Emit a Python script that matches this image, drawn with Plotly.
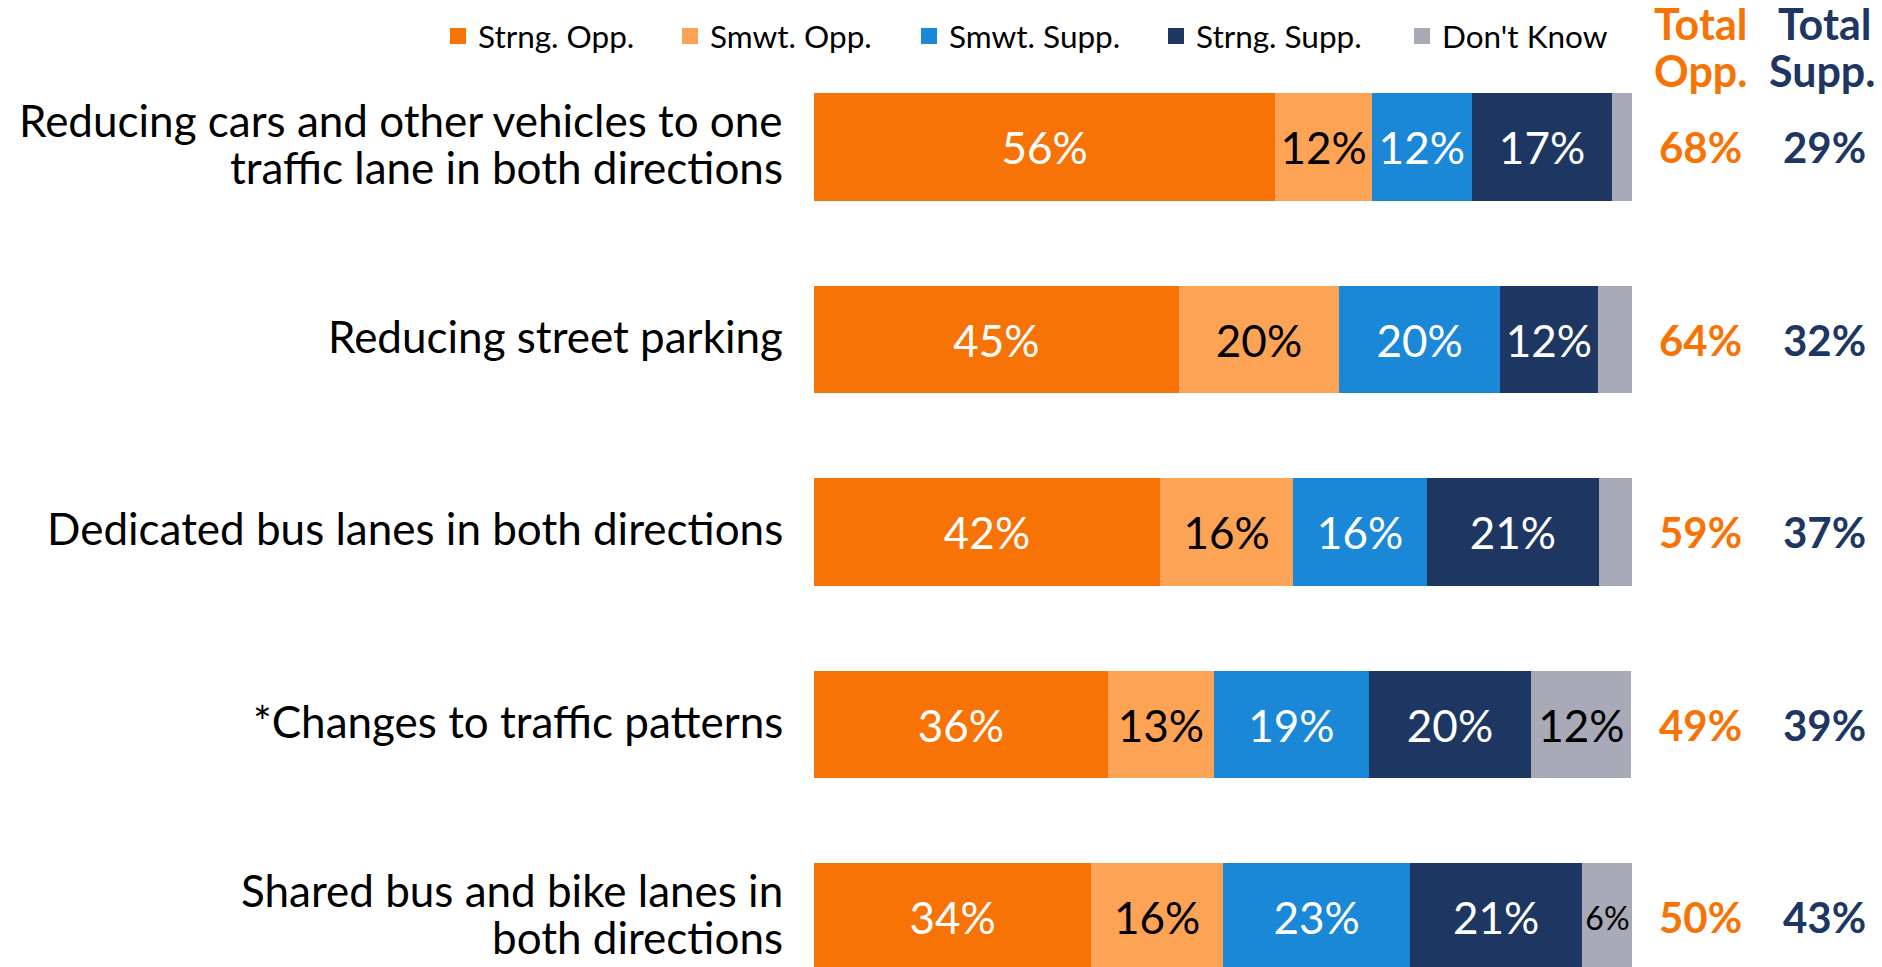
import plotly.graph_objects as go

# ---------------- data ----------------
categories = [
    "Reducing cars and other vehicles to one<br>traffic lane in both directions",
    "Reducing street parking",
    "Dedicated bus lanes in both directions",
    "*Changes to traffic patterns",
    "Shared bus and bike lanes in<br>both directions",
]
strong_opp = [56.4, 44.6, 42.3, 35.9, 33.9]
smwt_opp = [11.8, 19.6, 16.3, 13.0, 16.1]
smwt_supp = [12.2, 19.7, 16.3, 18.9, 22.9]
strong_supp = [17.2, 11.9, 21.1, 19.9, 21.0]
dont_know = [2.4, 4.2, 4.0, 12.2, 6.2]
total_opp = ["68%", "64%", "59%", "49%", "50%"]
total_supp = ["29%", "32%", "37%", "39%", "43%"]
series_names = ["Strng. Opp.", "Smwt. Opp.", "Smwt. Supp.", "Strng. Supp.", "Don't Know"]

# ---------------- style ----------------
FONT = "Lato"
colors = ["#F77306", "#FCA355", "#1A88D7", "#1E3762", "#A9AAB8"]
text_colors = ["white", "black", "white", "white", "black"]
OFF = 8                      # page body margin
W, H = 1882 - OFF, 967 - OFF
BAR_L, BAR_R = 814, 1632     # screen px of 0% and 100%
ML = BAR_L - OFF
MR = W - (BAR_R - OFF)
PW = W - ML - MR


def px_x(px):
    return (px - OFF - ML) / PW


def px_y(py):
    return 1 - (py - OFF) / H


fig = go.Figure()
all_series = [strong_opp, smwt_opp, smwt_supp, strong_supp, dont_know]
for i, (name, vals) in enumerate(zip(series_names, all_series)):
    if i == 4:
        texts = [f"{v:.0f}%" if v >= 5 else "" for v in vals]
        sizes = [44 if v >= 10 else 32 for v in vals]
    else:
        texts = [f"{v:.0f}%" for v in vals]
        sizes = [44] * len(vals)
    fig.add_trace(go.Bar(
        name=name, y=categories, x=vals, orientation="h",
        marker=dict(color=colors[i], line=dict(width=0)),
        text=texts, textposition="inside", insidetextanchor="middle",
        textangle=0, constraintext="none",
        insidetextfont=dict(family=FONT, size=sizes, color=text_colors[i]),
        showlegend=False, hoverinfo="skip",
    ))

annotations = []
shapes = []
# manual legend
legend_sq_x = [450, 682, 921, 1168, 1414]
for i, name in enumerate(series_names):
    sx = legend_sq_x[i]
    shapes.append(dict(type="rect", xref="paper", yref="paper",
                       x0=px_x(sx), x1=px_x(sx + 16), y0=px_y(44), y1=px_y(28),
                       fillcolor=colors[i], line=dict(width=0)))
    annotations.append(dict(xref="paper", yref="paper", x=px_x(sx + 26), y=px_y(36),
                            xanchor="left", yanchor="middle", showarrow=False,
                            text=name, font=dict(family=FONT, size=31.5, color="black")))

# category labels (two-line labels with tight line spacing)
LINE = 47
for cat in categories:
    lines = cat.split("<br>")
    n = len(lines)
    for k, ln in enumerate(lines):
        shift = 4 + (n - 1) * LINE / 2 - k * LINE
        annotations.append(dict(xref="paper", yref="y", x=px_x(785), y=cat,
                                xanchor="right", yanchor="middle", showarrow=False,
                                yshift=shift, text=ln,
                                font=dict(family=FONT, size=44, color="black")))

# headers
for txt, cx, cy, col, anchor in [("Total", 1700, 24, colors[0], "center"),
                                 ("Opp.", 1700, 70, colors[0], "center"),
                                 ("Total", 1521, 24, colors[3], "center"),
                                 ("Supp.", 1878, 70, colors[3], "right")]:
    x = cx if cx > 1600 else 1824
    annotations.append(dict(xref="paper", yref="paper", x=px_x(x), y=px_y(cy),
                            xanchor=anchor, yanchor="middle", showarrow=False,
                            text=f"<b>{txt}</b>",
                            font=dict(family=FONT, size=43, color=col)))

for cat, to, ts in zip(categories, total_opp, total_supp):
    annotations.append(dict(xref="paper", yref="y", x=px_x(1700), y=cat,
                            xanchor="center", yanchor="middle", showarrow=False,
                            text=f"<b>{to}</b>",
                            font=dict(family=FONT, size=42, color=colors[0])))
    annotations.append(dict(xref="paper", yref="y", x=px_x(1824), y=cat,
                            xanchor="center", yanchor="middle", showarrow=False,
                            text=f"<b>{ts}</b>",
                            font=dict(family=FONT, size=42, color=colors[3])))

row0_center = 147 - OFF
unit = 192.5
top = -row0_center / unit
bottom = 4 + (H - (917 - OFF)) / unit

fig.update_layout(
    width=W, height=H, barmode="stack", bargap=0.444,
    margin=dict(l=ML, r=MR, t=0, b=0, pad=0),
    paper_bgcolor="white", plot_bgcolor="white",
    xaxis=dict(range=[0, 100], visible=False, fixedrange=True),
    yaxis=dict(type="category", categoryarray=categories,
               range=[bottom, top], showgrid=False, zeroline=False,
               showline=False, ticks="", showticklabels=False),
    annotations=annotations, shapes=shapes,
    font=dict(family=FONT),
)

fig.write_html("out.html")
